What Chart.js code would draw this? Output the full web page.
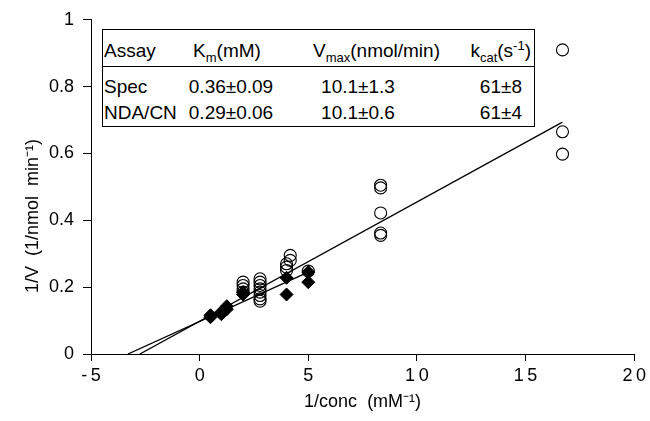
<!DOCTYPE html>
<html>
<head>
<meta charset="utf-8">
<script src="https://cdn.jsdelivr.net/npm/chart.js@4.4.1/dist/chart.umd.min.js"></script>
<style>
  html, body { margin: 0; padding: 0; background: #fff; }
  #wrap { position: relative; width: 650px; height: 421px; }
  #chart { position: absolute; left: 0; top: 0; }
  #kinetics {
    position: absolute; left: 102px; top: 29px; width: 433px; height: 98px;
    border: 1px solid #000; box-sizing: border-box; background: #fff;
    font-family: "Liberation Sans", Arial, sans-serif; font-size: 19px; color: #000;
  }
  #kinetics span { position: absolute; white-space: nowrap; line-height: 20px; }
  #kinetics .c { transform: translateX(-50%); }
  #kinetics .sep { position: absolute; left: 0; right: 0; top: 36px; border-top: 1px solid #000; }
  sub, sup { font-size: 13px; line-height: 0; }
  sub { vertical-align: -5px; }
  sup { vertical-align: 7px; }
</style>
</head>
<body>
<div id="wrap">
  <canvas id="chart" width="650" height="421"></canvas>
  <div id="kinetics"></div>
</div>
<script>
// 1/conc (mM^-1) vs 1/V, open circles = Spec, diamonds = NDA/CN
const specX = [16.7, 16.7, 16.7, 8.33, 8.33, 8.33, 8.33, 8.33, 5, 4.17, 4.17, 4, 4, 4,
  2.78, 2.78, 2.78, 2.78, 2.78, 2.78, 2.78, 2.78, 2, 2, 2, 2];
const specY = [0.91, 0.665, 0.598, 0.505, 0.497, 0.422, 0.362, 0.355, 0.248, 0.295, 0.28, 0.27, 0.26, 0.25,
  0.225, 0.215, 0.205, 0.195, 0.185, 0.175, 0.165, 0.158, 0.215, 0.205, 0.195, 0.185];

const ndaX = [0.5, 0.5, 1, 1, 1.25, 1.25, 2, 2, 4, 4, 5, 5];
const ndaY = [0.11, 0.116, 0.119, 0.126, 0.134, 0.143, 0.178, 0.185, 0.228, 0.178, 0.245, 0.215];

// fitted lines, end points
const specFitX = [-2.75, 16.7];
const specFitY = [0, 0.694];
const ndaFitX = [-3.3, 5];
const ndaFitY = [0, 0.245];

const xTicks = [-5, 0, 5, 10, 15, 20];
const yTicks = [0, 0.2, 0.4, 0.6, 0.8, 1];
const xTitle = "1/conc  (mM\u207B\u00B9)";
const yTitle = "1/V  (1/nmol  min\u207B\u00B9)";

const tableHead = ["Assay", "K<sub>m</sub>(mM)", "V<sub>max</sub>(nmol/min)", "k<sub>cat</sub>(s<sup>-1</sup>)"];
const tableAssay = ["Spec", "NDA/CN"];
const tableKm = ["0.36\u00B10.09", "0.29\u00B10.06"];
const tableVmax = ["10.1\u00B11.3", "10.1\u00B10.6"];
const tableKcat = ["61\u00B18", "61\u00B14"];

const toPoints = (xs, ys) => xs.map((x, i) => ({ x, y: ys[i] }));

const buildTable = () => {
  const box = document.getElementById("kinetics");
  let html = `
    <span style="left:1px;top:11px">${tableHead[0]}</span>
    <span class="c" style="left:124px;top:11px">${tableHead[1]}</span>
    <span style="left:210px;top:11px">${tableHead[2]}</span>
    <span style="right:3px;top:11px">${tableHead[3]}</span>
    <div class="sep"></div>`;
  const rowTops = [47, 73];
  tableAssay.forEach((name, i) => {
    html += `
    <span style="left:1px;top:${rowTops[i]}px">${name}</span>
    <span class="c" style="left:128px;top:${rowTops[i]}px">${tableKm[i]}</span>
    <span class="c" style="left:255px;top:${rowTops[i]}px">${tableVmax[i]}</span>
    <span style="right:12px;top:${rowTops[i]}px">${tableKcat[i]}</span>`;
  });
  box.innerHTML = html;
};

const yTitlePlugin = {
  id: "yTitle",
  afterDraw(chart) {
    const ctx = chart.ctx;
    ctx.save();
    ctx.translate(33, 216);
    ctx.rotate(-Math.PI / 2);
    ctx.font = '18px "Liberation Sans", Arial, sans-serif';
    ctx.fillStyle = "#000";
    ctx.textAlign = "center";
    ctx.textBaseline = "middle";
    ctx.fillText(yTitle, 0, 0);
    ctx.restore();
  },
};

Chart.defaults.font.family = '"Liberation Sans", Arial, sans-serif';
Chart.defaults.font.size = 18;
Chart.defaults.color = "#000";

const lineStyle = {
  type: "line",
  showLine: true,
  borderColor: "#000",
  borderWidth: 1.3,
  pointRadius: 0,
  fill: false,
};

new Chart(document.getElementById("chart"), {
  type: "scatter",
  data: {
    datasets: [
      { ...lineStyle, label: "Spec fit", data: toPoints(specFitX, specFitY) },
      { ...lineStyle, label: "NDA/CN fit", data: toPoints(ndaFitX, ndaFitY) },
      {
        label: "Spec",
        data: toPoints(specX, specY),
        pointStyle: "circle",
        pointRadius: 6,
        borderWidth: 1.1,
        borderColor: "#000",
        backgroundColor: "rgba(255,255,255,0)",
      },
      {
        label: "NDA/CN",
        data: toPoints(ndaX, ndaY),
        pointStyle: "rectRot",
        pointRadius: 6.5,
        borderWidth: 1,
        borderColor: "#000",
        backgroundColor: "#000",
      },
    ],
  },
  options: {
    responsive: false,
    animation: false,
    layout: { padding: { top: 18, right: 14, left: 0, bottom: 0 } },
    plugins: {
      legend: { display: false },
      tooltip: { enabled: false },
    },
    scales: {
      x: {
        type: "linear",
        min: -5,
        max: 20,
        afterBuildTicks: (scale) => {
          scale.ticks = xTicks.map((value) => ({ value }));
        },
        afterFit: (scale) => {
          scale.height = 67;
        },
        ticks: {
          padding: 4,
          maxRotation: 0,
          autoSkip: false,
          callback: (value) => String(value).split("").join("\u2009"),
        },
        grid: { drawOnChartArea: false, tickLength: 7, color: "#000" },
        border: { color: "#000", width: 1 },
        title: { display: true, text: xTitle, padding: { top: 0, bottom: 8 } },
      },
      y: {
        min: 0,
        max: 1,
        afterBuildTicks: (scale) => {
          scale.ticks = yTicks.map((value) => ({ value }));
        },
        afterFit: (scale) => {
          scale.width = 91;
        },
        ticks: {
          padding: 9,
          autoSkip: false,
          callback: (value) => String(value),
        },
        grid: { drawOnChartArea: false, tickLength: 8, color: "#000" },
        border: { color: "#000", width: 1 },
      },
    },
  },
  plugins: [yTitlePlugin],
});

buildTable();
</script>
</body>
</html>
